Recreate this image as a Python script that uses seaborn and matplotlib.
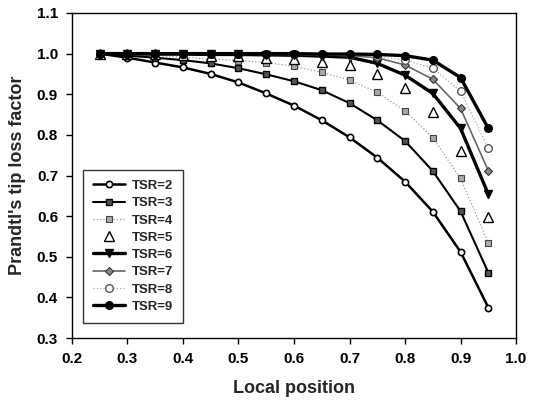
import matplotlib
matplotlib.use("Agg")
import matplotlib.pyplot as plt
import seaborn as sns
import pandas as pd

sns.set_theme(style="ticks")
plt.rcParams['font.family'] = ['Liberation Sans', 'DejaVu Sans']

positions = [0.25, 0.30, 0.35, 0.40, 0.45, 0.50, 0.55, 0.60, 0.65, 0.70, 0.75, 0.80, 0.85, 0.90, 0.95]
tsr2 = [1.0, 0.990, 0.978, 0.966, 0.950, 0.929, 0.902, 0.872, 0.836, 0.794, 0.744, 0.685, 0.611, 0.512, 0.375]
tsr3 = [1.0, 0.995, 0.990, 0.984, 0.976, 0.964, 0.949, 0.932, 0.910, 0.878, 0.836, 0.785, 0.711, 0.612, 0.461]
tsr4 = [1.0, 0.998, 0.995, 0.991, 0.987, 0.983, 0.978, 0.969, 0.954, 0.935, 0.905, 0.859, 0.793, 0.693, 0.534]
tsr5 = [1.0, 0.999, 0.998, 0.997, 0.995, 0.993, 0.990, 0.986, 0.980, 0.972, 0.950, 0.915, 0.857, 0.761, 0.598]
tsr6 = [1.0, 1.0, 0.999, 0.999, 0.998, 0.998, 0.997, 0.996, 0.994, 0.991, 0.976, 0.947, 0.902, 0.816, 0.654]
tsr7 = [1.0, 1.0, 1.0, 0.999, 0.999, 0.999, 0.998, 0.998, 0.997, 0.995, 0.990, 0.972, 0.937, 0.865, 0.712]
tsr8 = [1.0, 1.0, 1.0, 1.0, 1.0, 0.999, 0.999, 0.999, 0.998, 0.997, 0.994, 0.984, 0.964, 0.908, 0.767]
tsr9 = [1.0, 1.0, 1.0, 1.0, 1.0, 1.0, 1.0, 1.0, 0.999, 0.999, 0.998, 0.995, 0.984, 0.941, 0.816]

series = {
    "TSR=2": tsr2, "TSR=3": tsr3, "TSR=4": tsr4, "TSR=5": tsr5,
    "TSR=6": tsr6, "TSR=7": tsr7, "TSR=8": tsr8, "TSR=9": tsr9,
}

rows = []
for name, vals in series.items():
    for x, y in zip(positions, vals):
        rows.append({"pos": x, "F": y, "TSR": name})
df = pd.DataFrame(rows)

styles = {
    "TSR=2": dict(color="black", lw=1.8, ls="-", marker="o", ms=4.5, mfc="white", mec="black", mew=1.2),
    "TSR=3": dict(color="black", lw=1.5, ls="-", marker="s", ms=4.5, mfc="#555555", mec="black", mew=1.0),
    "TSR=4": dict(color="#999999", lw=0.9, ls=":", marker="s", ms=4.5, mfc="#aaaaaa", mec="#444444", mew=0.8),
    "TSR=5": dict(color="none", lw=0, ls="none", marker="^", ms=6.5, mfc="white", mec="black", mew=1.0),
    "TSR=6": dict(color="black", lw=2.4, ls="-", marker="v", ms=5.5, mfc="black", mec="black", mew=1.0),
    "TSR=7": dict(color="#666666", lw=1.2, ls="-", marker="D", ms=4.5, mfc="#888888", mec="#333333", mew=0.8),
    "TSR=8": dict(color="#aaaaaa", lw=0.9, ls=":", marker="o", ms=5.5, mfc="white", mec="#555555", mew=1.0),
    "TSR=9": dict(color="black", lw=2.4, ls="-", marker="o", ms=5.5, mfc="black", mec="black", mew=1.0),
}

fig = plt.figure(figsize=(5.37, 4.0), dpi=100)
ax = fig.add_axes([0.134, 0.155, 0.827, 0.8125])

for name in series:
    st = styles[name]
    sub = df[df["TSR"] == name]
    sns.lineplot(data=sub, x="pos", y="F", ax=ax, label=name,
                 color=st["color"], linewidth=st["lw"], linestyle=st["ls"],
                 marker=st["marker"], markersize=st["ms"],
                 markerfacecolor=st["mfc"], markeredgecolor=st["mec"],
                 markeredgewidth=st["mew"], errorbar=None, sort=False)

ax.set_xlim(0.2, 1.0)
ax.set_ylim(0.3, 1.1)
ax.set_xticks([0.2, 0.3, 0.4, 0.5, 0.6, 0.7, 0.8, 0.9, 1.0])
ax.set_yticks([0.3, 0.4, 0.5, 0.6, 0.7, 0.8, 0.9, 1.0, 1.1])
ax.xaxis.set_major_formatter(matplotlib.ticker.FormatStrFormatter('%.1f'))
ax.yaxis.set_major_formatter(matplotlib.ticker.FormatStrFormatter('%.1f'))
ax.tick_params(axis='both', direction='out', length=4, width=1, labelsize=11, colors='black', pad=6)
for lab in ax.get_xticklabels() + ax.get_yticklabels():
    lab.set_fontweight('bold')
for sp in ax.spines.values():
    sp.set_visible(True)
    sp.set_color('black')
    sp.set_linewidth(1.0)

ax.set_xlabel("Local position", fontsize=13, fontweight='bold', labelpad=10)
ax.set_ylabel("Prandtl's tip loss factor", fontsize=13, fontweight='bold', labelpad=8)

leg = ax.legend(loc='lower left', bbox_to_anchor=(0.024, 0.047), frameon=True, fancybox=False,
                edgecolor='black', fontsize=9.5, handlelength=2.5, labelspacing=0.38,
                borderpad=0.75, handletextpad=0.5, borderaxespad=0)
leg.get_frame().set_linewidth(1.0)
for t in leg.get_texts():
    t.set_fontweight('bold')

fig.savefig("out.png", dpi=100)
